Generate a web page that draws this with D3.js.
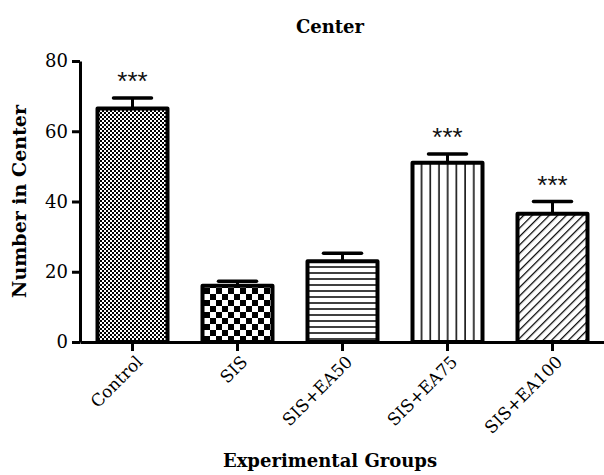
<!DOCTYPE html>
<html>
<head>
<meta charset="utf-8">
<script src="https://cdn.jsdelivr.net/npm/d3@7"></script>
<style>
  body { margin: 0; background: #fff; }
  svg { font-family: "DejaVu Serif", serif; }
</style>
</head>
<body>
<div id="chart"></div>
<script>
const groups = ["Control", "SIS", "SIS+EA50", "SIS+EA75", "SIS+EA100"];
const means = [66.5, 16, 23, 51, 36.5];
const errors = [3, 1.3, 2.3, 2.5, 3.5];
const stars = ["***", "", "", "***", "***"];
const yTicks = [0, 20, 40, 60, 80];

const width = 604, height = 475;

const svg = d3.select("#chart").append("svg")
  .attr("width", width)
  .attr("height", height);

// --- Patterns ---
const defs = svg.append("defs");

const fine = defs.append("pattern").attr("id", "p0")
  .attr("patternUnits", "userSpaceOnUse").attr("width", 4).attr("height", 4);
fine.append("rect").attr("width", 4).attr("height", 4).attr("fill", "#fff");
fine.append("rect").attr("width", 2).attr("height", 2).attr("fill", "#000");
fine.append("rect").attr("x", 2).attr("y", 2).attr("width", 2).attr("height", 2).attr("fill", "#000");

const coarse = defs.append("pattern").attr("id", "p1")
  .attr("patternUnits", "userSpaceOnUse").attr("width", 12).attr("height", 12);
coarse.append("rect").attr("width", 12).attr("height", 12).attr("fill", "#fff");
coarse.append("rect").attr("width", 6).attr("height", 6).attr("fill", "#000");
coarse.append("rect").attr("x", 6).attr("y", 6).attr("width", 6).attr("height", 6).attr("fill", "#000");

const horiz = defs.append("pattern").attr("id", "p2")
  .attr("patternUnits", "userSpaceOnUse").attr("width", 10).attr("height", 6);
horiz.append("rect").attr("width", 10).attr("height", 6).attr("fill", "#fff");
horiz.append("line").attr("x1", 0).attr("x2", 10).attr("y1", 3).attr("y2", 3)
  .attr("stroke", "#000").attr("stroke-width", 1.5);

const vert = defs.append("pattern").attr("id", "p3")
  .attr("patternUnits", "userSpaceOnUse").attr("width", 8.7).attr("height", 10);
vert.append("rect").attr("width", 8.7).attr("height", 10).attr("fill", "#fff");
vert.append("line").attr("x1", 4).attr("x2", 4).attr("y1", 0).attr("y2", 10)
  .attr("stroke", "#000").attr("stroke-width", 1.5);

const diag = defs.append("pattern").attr("id", "p4")
  .attr("patternUnits", "userSpaceOnUse").attr("width", 6).attr("height", 6)
  .attr("patternTransform", "rotate(45)");
diag.append("rect").attr("width", 6).attr("height", 6).attr("fill", "#fff");
diag.append("line").attr("x1", 0).attr("x2", 0).attr("y1", 0).attr("y2", 6)
  .attr("stroke", "#000").attr("stroke-width", 2.5);

// --- Scales ---
const x = d3.scaleBand()
  .domain(groups)
  .range([80, 605])
  .paddingInner(1 / 3)
  .paddingOuter(1 / 6);

const y = d3.scaleLinear()
  .domain([0, 80])
  .range([342, 61]);

// --- Bars ---
svg.append("g").selectAll("rect")
  .data(groups)
  .join("rect")
  .attr("x", d => x(d))
  .attr("width", x.bandwidth())
  .attr("y", (d, i) => y(means[i]))
  .attr("height", (d, i) => y(0) - y(means[i]))
  .attr("fill", (d, i) => `url(#p${i})`)
  .attr("stroke", "#000")
  .attr("stroke-width", 4)
  .attr("stroke-linejoin", "round");

// --- Error bars ---
const eb = svg.append("g").selectAll("g")
  .data(groups)
  .join("g");

eb.append("line")
  .attr("x1", d => x(d) + x.bandwidth() / 2)
  .attr("x2", d => x(d) + x.bandwidth() / 2)
  .attr("y1", (d, i) => y(means[i]))
  .attr("y2", (d, i) => y(means[i] + errors[i]))
  .attr("stroke", "#000")
  .attr("stroke-width", 3);

eb.append("line")
  .attr("x1", d => x(d) + x.bandwidth() / 2 - 19)
  .attr("x2", d => x(d) + x.bandwidth() / 2 + 19)
  .attr("y1", (d, i) => y(means[i] + errors[i]))
  .attr("y2", (d, i) => y(means[i] + errors[i]))
  .attr("stroke", "#000")
  .attr("stroke-width", 3.5)
  .attr("stroke-linecap", "round");

// significance stars
svg.append("g").selectAll("text")
  .data(groups)
  .join("text")
  .attr("x", d => x(d) + x.bandwidth() / 2)
  .attr("y", (d, i) => y(means[i] + errors[i]) - 8)
  .attr("text-anchor", "middle")
  .attr("font-size", "26px")
  .attr("font-family", "Liberation Sans, sans-serif")
  .attr("fill", "#111")
  .text((d, i) => stars[i]);

// --- Axes ---
const yAxis = svg.append("g")
  .attr("transform", "translate(80,0)")
  .call(d3.axisLeft(y).tickValues(yTicks).tickSize(8).tickSizeOuter(0));
yAxis.select(".domain").attr("stroke-width", 3);
yAxis.selectAll(".tick line").attr("stroke-width", 3);
yAxis.selectAll(".tick text")
  .attr("font-size", "18px")
  .attr("font-family", "DejaVu Serif, serif")
  .attr("x", -12)
  .attr("fill", "#000");

const xAxis = svg.append("g")
  .attr("transform", `translate(0,${y(0)})`)
  .call(d3.axisBottom(x).tickSize(9).tickSizeOuter(0));
xAxis.select(".domain").attr("stroke-width", 3);
xAxis.selectAll(".tick line").attr("stroke-width", 3);
xAxis.selectAll(".tick text")
  .attr("font-size", "17px")
  .attr("font-family", "DejaVu Serif, serif")
  .attr("fill", "#000")
  .attr("text-anchor", "end")
  .attr("dy", 0)
  .attr("y", 0)
  .attr("transform", "translate(11,21) rotate(-45)");

// --- Titles ---
svg.append("text")
  .attr("x", 330)
  .attr("y", 33)
  .attr("text-anchor", "middle")
  .attr("font-weight", "bold")
  .attr("font-size", "18px")
  .text("Center");

svg.append("text")
  .attr("x", 330)
  .attr("y", 467)
  .attr("text-anchor", "middle")
  .attr("font-weight", "bold")
  .attr("font-size", "18px")
  .text("Experimental Groups");

svg.append("text")
  .attr("transform", `translate(26,${(61 + 342) / 2}) rotate(-90)`)
  .attr("text-anchor", "middle")
  .attr("font-weight", "bold")
  .attr("font-size", "19px")
  .text("Number in Center");
</script>
</body>
</html>
